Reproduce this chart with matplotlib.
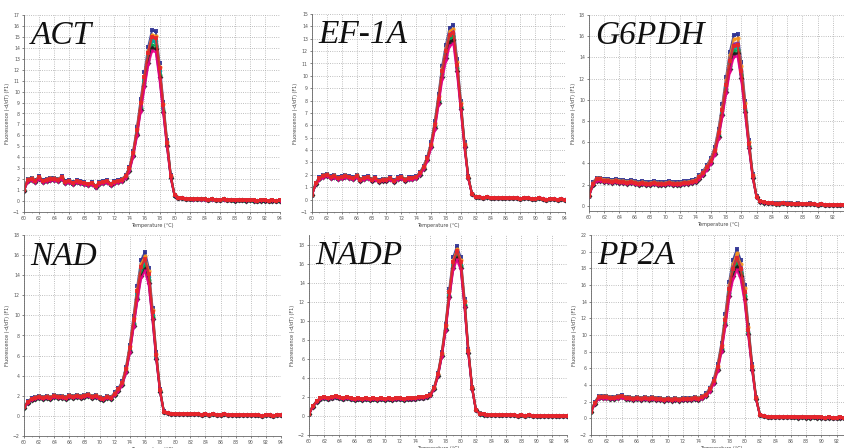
import numpy as np
import matplotlib
matplotlib.use("Agg")
import matplotlib.pyplot as plt

# Suhu (sumbu x), langkah 0.5 derajat
temps = np.arange(60, 94.01, 0.5)

# Kurva rata-rata -dF/dT yang dibaca dari gambar, per gen
act = [1.0, 1.9, 2.0, 1.8, 2.1, 1.8, 1.9, 2.0, 2.0, 1.9,
       2.1, 1.7, 1.8, 1.6, 1.8, 1.7, 1.6, 1.5, 1.6, 1.3,
       1.6, 1.7, 1.8, 1.5, 1.7, 1.8, 1.9, 2.2, 2.9, 4.3,
       6.3, 8.7, 11.0, 13.2, 14.6, 14.5, 11.8, 8.5, 5.2, 2.2,
       0.5, 0.3, 0.25, 0.2, 0.2, 0.15, 0.2, 0.15, 0.15, 0.1,
       0.15, 0.1, 0.1, 0.15, 0.1, 0.1, 0.05, 0.1, 0.1, 0.05,
       0.1, 0.05, 0.0, 0.05, 0.05, 0.0, 0.05, 0.0, 0.05]
ef1a = [0.4, 1.3, 1.7, 1.9, 2.0, 1.8, 1.9, 1.7, 1.8, 1.9,
        1.8, 1.7, 1.9, 1.6, 1.7, 1.8, 1.6, 1.7, 1.5, 1.6,
        1.6, 1.7, 1.5, 1.7, 1.8, 1.6, 1.7, 1.7, 1.8, 2.1,
        2.6, 3.3, 4.4, 6.0, 8.1, 10.3, 11.9, 13.2, 13.4, 10.8,
        7.6, 4.4, 1.8, 0.45, 0.2, 0.2, 0.15, 0.2, 0.15, 0.15,
        0.1, 0.15, 0.1, 0.1, 0.15, 0.1, 0.05, 0.1, 0.1, 0.05,
        0.05, 0.1, 0.05, 0.0, 0.05, 0.05, 0.0, 0.05, 0.0]
g6pdh = [0.9, 2.0, 2.4, 2.4, 2.3, 2.3, 2.2, 2.3, 2.2, 2.2,
         2.1, 2.2, 2.1, 2.0, 2.1, 2.0, 2.0, 2.1, 2.0, 2.0,
         2.0, 2.1, 2.0, 2.0, 2.0, 2.1, 2.1, 2.2, 2.3, 2.6,
         3.0, 3.5, 4.1, 5.0, 6.6, 8.7, 11.0, 13.2, 14.6, 14.7,
         12.3, 9.0, 5.6, 2.7, 0.8, 0.4, 0.3, 0.25, 0.25, 0.2,
         0.2, 0.25, 0.2, 0.2, 0.15, 0.2, 0.15, 0.15, 0.2, 0.15,
         0.1, 0.15, 0.1, 0.1, 0.1, 0.05, 0.1, 0.05, 0.05]
nad = [0.8, 1.3, 1.6, 1.7, 1.8, 1.7, 1.8, 1.7, 1.9, 1.8,
       1.8, 1.7, 1.9, 1.8, 1.9, 1.8, 1.9, 2.0, 1.8, 1.9,
       1.7, 1.6, 1.8, 1.7, 2.1, 2.5, 3.1, 4.4, 6.4, 9.0,
       11.7, 14.0, 14.7, 13.3, 9.7, 5.7, 2.4, 0.4, 0.25, 0.2,
       0.2, 0.15, 0.2, 0.2, 0.15, 0.15, 0.2, 0.1, 0.15, 0.1,
       0.15, 0.1, 0.1, 0.15, 0.1, 0.05, 0.1, 0.1, 0.05, 0.1,
       0.05, 0.1, 0.05, 0.0, 0.05, 0.05, 0.0, 0.05, 0.05]
nadp = [0.2, 1.0, 1.5, 1.8, 1.9, 1.8, 1.9, 2.0, 1.9, 1.8,
        1.9, 1.8, 1.7, 1.8, 1.7, 1.8, 1.7, 1.8, 1.7, 1.8,
        1.7, 1.8, 1.7, 1.8, 1.8, 1.7, 1.8, 1.8, 1.8, 1.9,
        1.9, 2.0, 2.2, 2.9, 4.3, 6.4, 9.2, 12.7, 15.8, 16.9,
        15.8, 11.7, 6.7, 2.9, 0.6, 0.25, 0.15, 0.1, 0.1, 0.1,
        0.05, 0.1, 0.05, 0.05, 0.1, 0.0, 0.05, 0.0, 0.05, 0.0,
        -0.05, 0.0, -0.05, 0.0, -0.05, 0.0, -0.05, 0.0, 0.0]
pp2a = [0.8, 1.8, 2.5, 2.5, 2.5, 2.4, 2.4, 2.5, 2.6, 2.4,
        2.4, 2.3, 2.4, 2.3, 2.4, 2.3, 2.4, 2.3, 2.3, 2.2,
        2.3, 2.2, 2.3, 2.2, 2.3, 2.3, 2.3, 2.4, 2.3, 2.5,
        2.8, 3.4, 4.4, 6.0, 8.4, 11.6, 15.2, 17.6, 18.8, 17.6,
        14.8, 10.4, 6.0, 2.4, 0.4, 0.25, 0.2, 0.2, 0.15, 0.2,
        0.15, 0.2, 0.15, 0.15, 0.1, 0.15, 0.1, 0.1, 0.15, 0.1,
        0.1, 0.05, 0.1, 0.05, 0.05, 0.1, 0.05, 0.0, 0.05]

# Tinggi puncak tiap ulangan
act_peaks = [15.6, 15.2, 14.9, 14.6, 14.3, 14.0, 13.7, 15.0]
ef1a_peaks = [14.1, 13.8, 13.6, 13.4, 13.2, 12.9, 12.6, 13.5]
g6pdh_peaks = [16.2, 15.8, 15.4, 15.0, 14.7, 14.4, 14.1, 15.2]
nad_peaks = [16.3, 15.9, 15.5, 15.2, 14.9, 14.6, 14.4, 15.6]
nadp_peaks = [17.8, 17.5, 17.2, 17.0, 16.8, 16.6, 16.4, 17.3]
pp2a_peaks = [20.3, 19.8, 19.4, 19.0, 18.6, 18.2, 17.8, 19.2]

genes = ["ACT", "EF-1A", "G6PDH", "NAD", "NADP", "PP2A"]
curves = [act, ef1a, g6pdh, nad, nadp, pp2a]
peaks = [act_peaks, ef1a_peaks, g6pdh_peaks, nad_peaks, nadp_peaks, pp2a_peaks]

# Batas sumbu y dan jarak tick
ylims = [(-1, 17), (-1, 15), (-0.5, 18), (-2, 18), (-2, 19), (-2, 22)]
ysteps = [1, 1, 2, 2, 2, 2]

# Posisi panel dalam piksel: kiri, kanan, atas, bawah
W, H = 845, 448
boxes = [(24, 280, 15, 212), (312, 565, 14, 212), (589, 848, 15, 211),
         (24, 281, 235, 436), (309, 567, 235, 435), (591, 852, 235, 435)]

warna = ['#2e3192', '#f7941d', '#92278f', '#00a99d', '#00a651',
         '#231f20', '#ec008c', '#e8262a']
penanda = ['s', 'o', '^', 's', 'o', 'D', 'v', 's']

fig = plt.figure(figsize=(W / 100, H / 100), dpi=100)

for gen, kurva, pk, yl, ys, (l, r, t, b) in zip(genes, curves, peaks, ylims, ysteps, boxes):
    ax = fig.add_axes([l / W, 1 - b / H, (r - l) / W, (b - t) / H])
    kurva = np.array(kurva)
    for i, h in enumerate(pk):
        ax.plot(temps, kurva * h / kurva.max(), color=warna[i], lw=1.5,
                marker=penanda[i], ms=3.0, mew=0, alpha=0.9)
    ax.set_xlim(60, 94)
    ax.set_ylim(*yl)
    ax.set_xticks(np.arange(60, 95, 2))
    ax.set_xticks(np.arange(60, 95, 1), minor=True)
    start = int(np.ceil(yl[0] / ys) * ys)
    ax.set_yticks(np.arange(start, yl[1] + 0.01, ys))
    ax.grid(True, which='major', linestyle=':', color='#aaaaaa', lw=0.6)
    ax.tick_params(labelsize=3.3, colors='#555555', length=1.5, width=0.5, pad=1.5)
    ax.tick_params(which='minor', length=1.0, width=0.4, colors='#777777')
    for s in ['top', 'right']:
        ax.spines[s].set_visible(False)
    for s in ['left', 'bottom']:
        ax.spines[s].set_color('#666666')
        ax.spines[s].set_linewidth(0.6)
    ax.set_xlabel("Temperature (\u00b0C)", fontsize=3.5, color='#444444', labelpad=1.5)
    ax.set_ylabel("Fluorescence (-d/dT) (F1)", fontsize=3.5, color='#444444', labelpad=2)
    ax.text(0.025, 0.97, gen, transform=ax.transAxes, ha='left', va='top',
            fontsize=24, fontstyle='italic', family='Liberation Serif', color='#111111')

fig.savefig("out.png", dpi=100, facecolor='white')
